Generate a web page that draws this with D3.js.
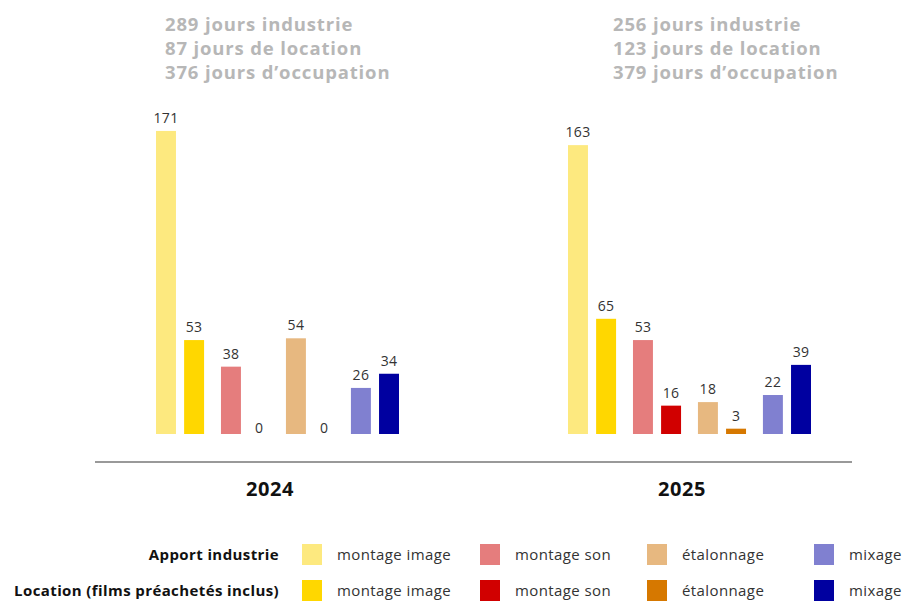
<!DOCTYPE html>
<html>
<head>
	<meta charset="utf-8">
	<script src="https://d3js.org/d3.v7.min.js"></script>
	<title>Jours industrie / location</title>
	<style>
		body { margin: 0; background: #fff; }
		text { font-family: "Open Sans", sans-serif; }
	</style>
</head>
<body>
	<div id="chart"></div>

	<script type="text/javascript">

		// data
		var years = ["2024", "2025"];
		var categories = ["montage image", "montage son", "étalonnage", "mixage"];
		var seriesNames = ["Apport industrie", "Location (films préachetés inclus)"];

		var apport2024 = [171, 38, 54, 26];
		var location2024 = [53, 0, 0, 34];
		var apport2025 = [163, 53, 18, 22];
		var location2025 = [65, 16, 3, 39];

		var headers = {
			"2024": ["289 jours industrie", "87 jours de location", "376 jours d\u2019occupation"],
			"2025": ["256 jours industrie", "123 jours de location", "379 jours d\u2019occupation"]
		};

		var colors = [
			["#fde97f", "#e57d7d", "#e7b880", "#8080d0"],   // apport industrie
			["#ffd700", "#d10000", "#d67800", "#0000a0"]    // location
		];

		// build rows
		var values = {
			"2024": [apport2024, location2024],
			"2025": [apport2025, location2025]
		};
		var bars = [];
		years.forEach(function(y){
			categories.forEach(function(c, ci){
				seriesNames.forEach(function(s, si){
					bars.push({ year: y, cat: c, ci: ci, series: s, si: si, value: values[y][si][ci] });
				});
			});
		});

		var svgwidth = 902;
		var svgheight = 601;

		var svg = d3.select("#chart").append("svg")
			.attr("width", svgwidth)
			.attr("height", svgheight);

		var xYear = d3.scalePoint().domain(years).range([278, 690]);
		var xHeader = d3.scalePoint().domain(years).range([165, 613]);
		var xCat = d3.scaleBand().domain(categories).range([-122, 121]).paddingInner(0.26).paddingOuter(0);
		var xSeries = d3.scaleBand().domain(seriesNames).range([0, xCat.bandwidth()]).paddingInner(0.29);
		var yScale = d3.scaleLinear().domain([0, 180]).range([434, 115]);

		function barX(d){ return xYear(d.year) + xCat(d.cat) + xSeries(d.series); }

		// headers
		years.forEach(function(y){
			svg.append("g").selectAll("text").data(headers[y]).enter().append("text")
				.attr("x", xHeader(y))
				.attr("y", function(d, i){ return 31 + i * 24; })
				.attr("fill", "#b7b7b7")
				.attr("font-size", "18.5px")
				.attr("font-weight", "bold")
				.attr("letter-spacing", "0.85px")
				.text(function(d){ return d; });
		});

		// bars
		svg.append("g").selectAll("rect").data(bars.filter(function(d){ return d.value > 0; })).enter().append("rect")
			.attr("x", barX)
			.attr("y", function(d){ return yScale(d.value); })
			.attr("width", xSeries.bandwidth())
			.attr("height", function(d){ return yScale(0) - yScale(d.value); })
			.attr("fill", function(d){ return colors[d.si][d.ci]; });

		// value labels
		svg.append("g").selectAll("text").data(bars).enter().append("text")
			.attr("x", function(d){ return barX(d) + xSeries.bandwidth() / 2; })
			.attr("y", function(d){ return d.value > 0 ? yScale(d.value) - 8 : yScale(0) - 1; })
			.attr("text-anchor", "middle")
			.attr("fill", "#333")
			.attr("font-size", "14px")
			.attr("font-weight", "500")
			.attr("letter-spacing", "0.3px")
			.text(function(d){ return d.value; });

		// base line
		svg.append("line")
			.attr("x1", 95).attr("x2", 852)
			.attr("y1", 462).attr("y2", 462)
			.attr("stroke", "#777")
			.attr("stroke-width", 1.5);

		// year labels
		svg.append("g").selectAll("text").data(years).enter().append("text")
			.attr("x", function(d){ return xYear(d) - 8; })
			.attr("y", 496)
			.attr("text-anchor", "middle")
			.attr("font-size", "20px")
			.attr("font-weight", "bold")
			.attr("letter-spacing", "0.6px")
			.attr("fill", "#111")
			.text(function(d){ return d; });

		// legend
		var legendX = [302, 480, 647, 814];
		var legendY = [555, 591];
		seriesNames.forEach(function(s, si){
			var row = svg.append("g").attr("transform", "translate(0," + legendY[si] + ")");
			row.append("text")
				.attr("x", 279).attr("y", 5)
				.attr("text-anchor", "end")
				.attr("font-size", "15px")
				.attr("font-weight", "bold")
				.attr("letter-spacing", "0.4px")
				.attr("fill", "#111")
				.text(s);
			categories.forEach(function(c, ci){
				row.append("rect")
					.attr("x", legendX[ci]).attr("y", -11)
					.attr("width", 20).attr("height", 21)
					.attr("fill", colors[si][ci]);
				row.append("text")
					.attr("x", legendX[ci] + 35).attr("y", 5)
					.attr("font-size", "15px")
					.attr("letter-spacing", "0.4px")
					.attr("fill", "#333")
					.text(c);
			});
		});

	</script>
</body>
</html>
